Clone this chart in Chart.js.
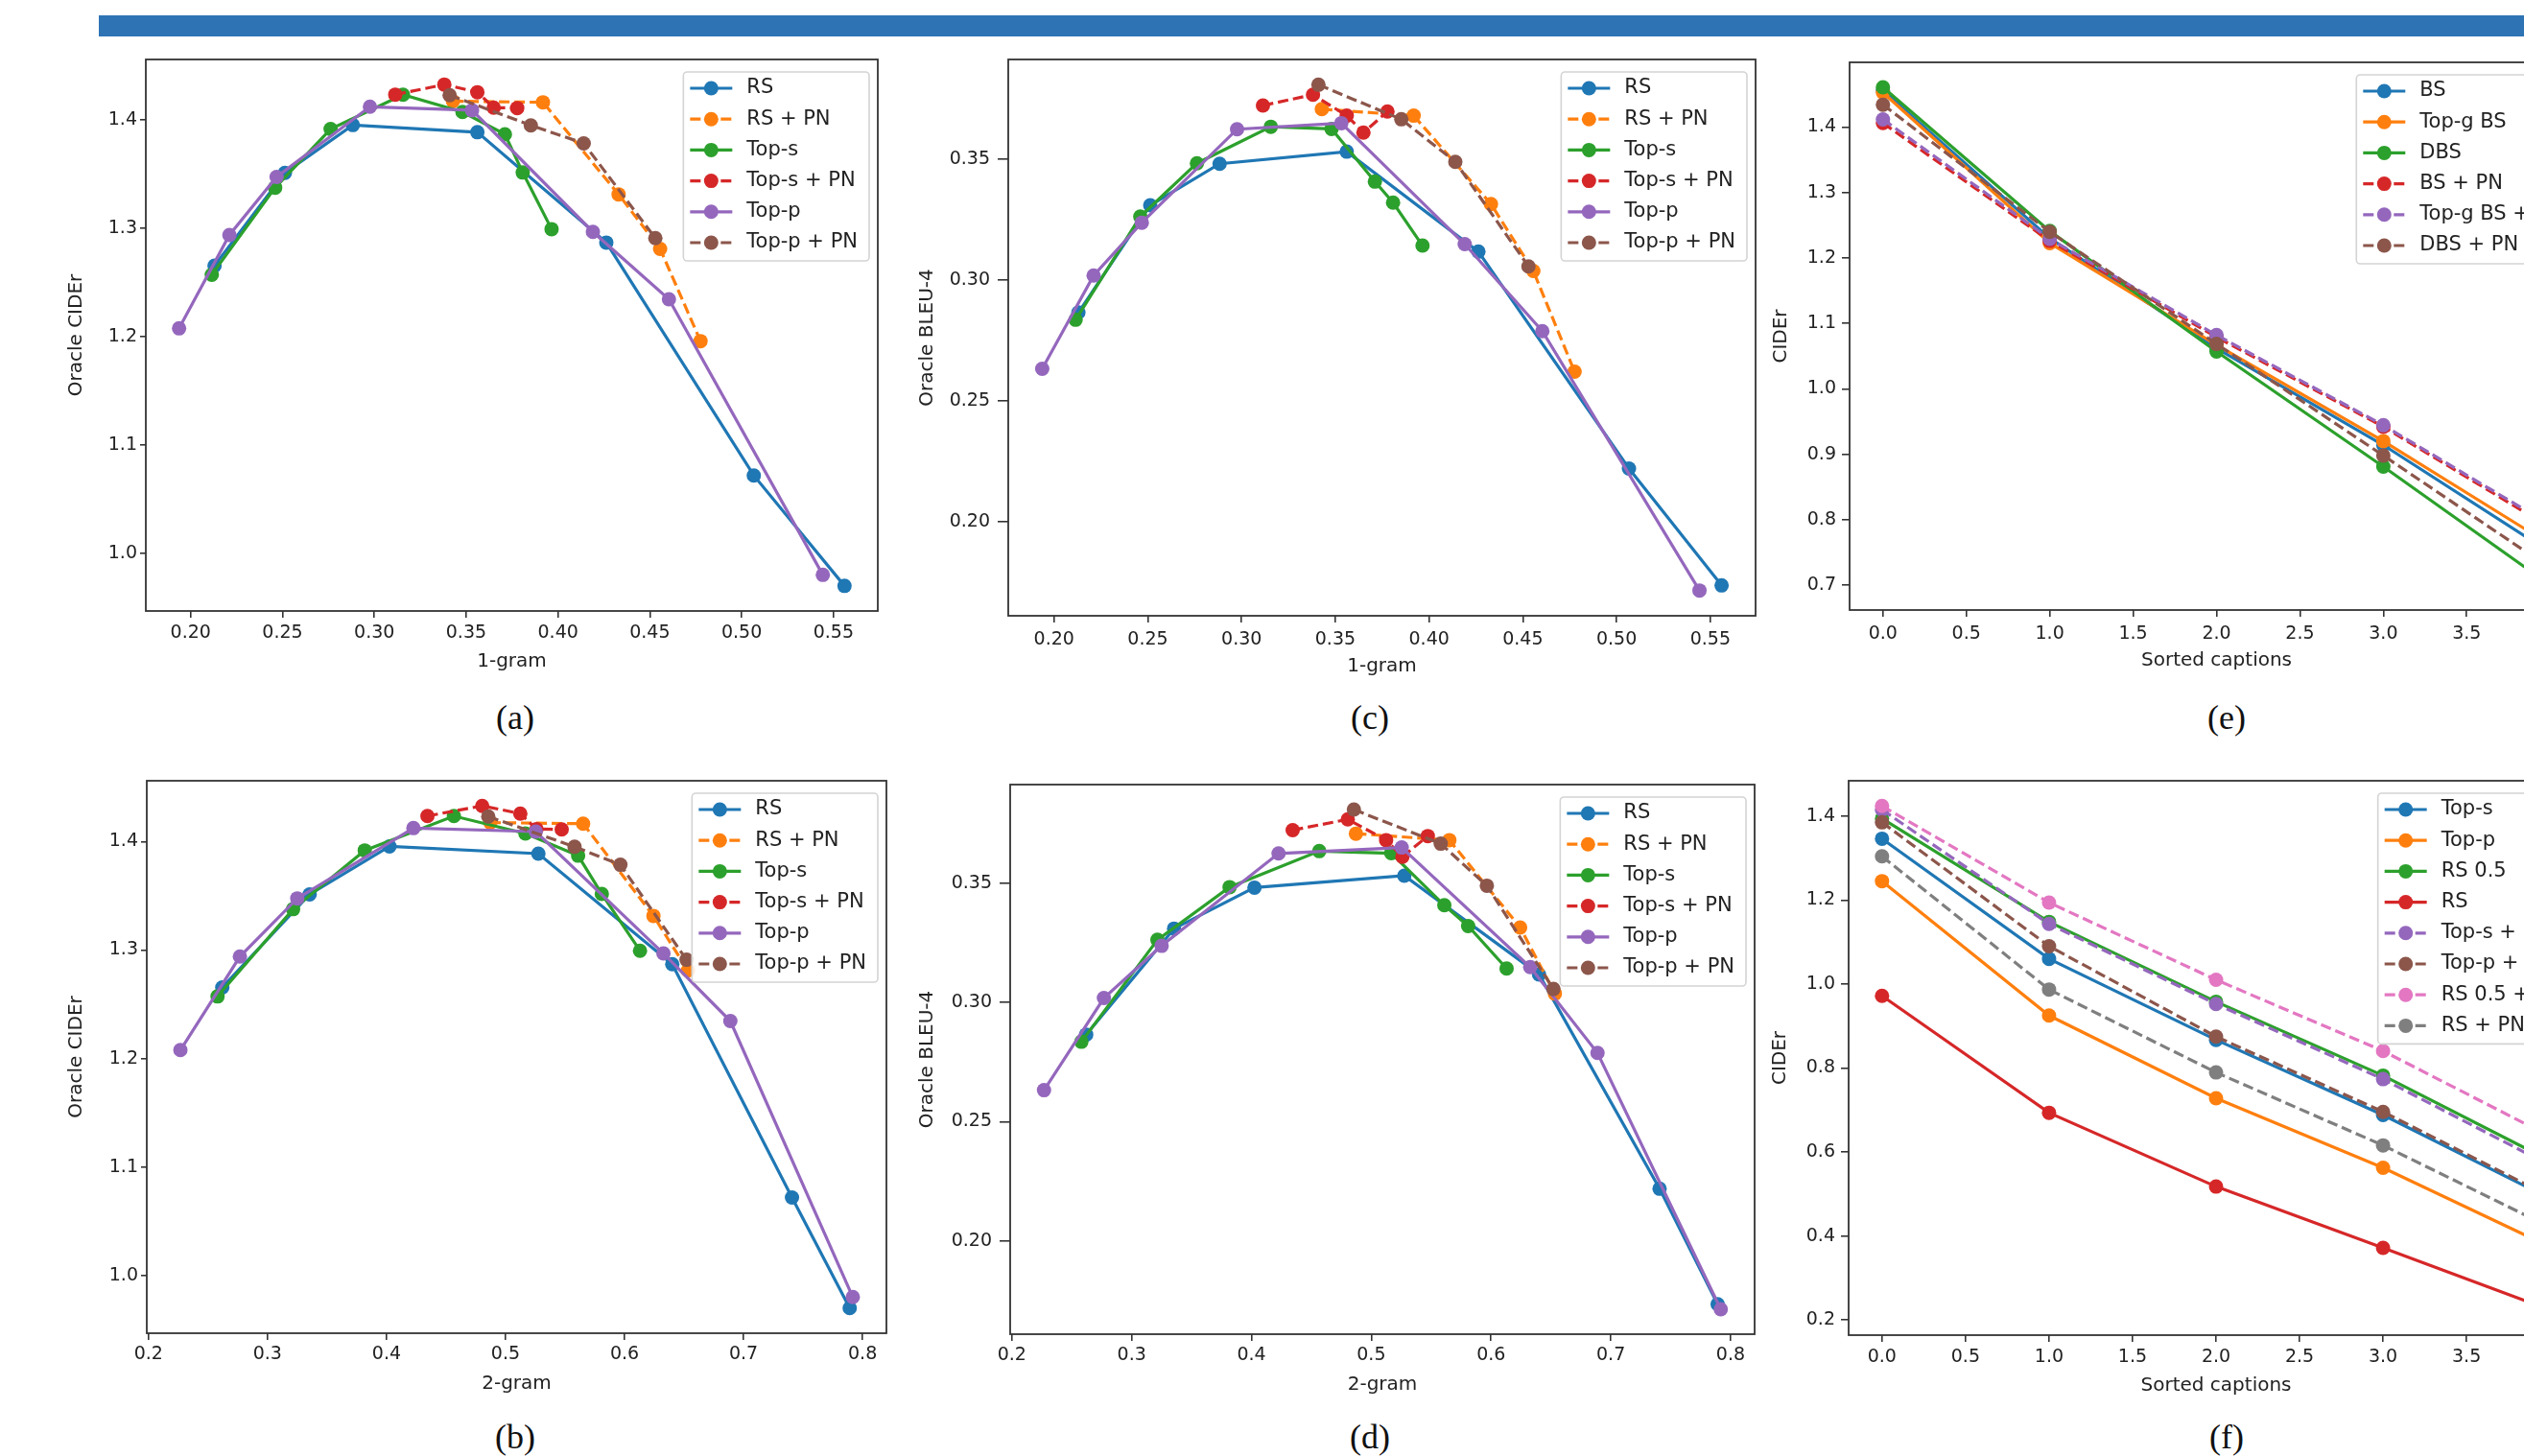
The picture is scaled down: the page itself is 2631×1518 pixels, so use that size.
<!DOCTYPE html>
<html>
<head>
<meta charset="utf-8">
<script src="https://cdn.jsdelivr.net/npm/chart.js@4.4.1/dist/chart.umd.min.js"></script>
<style>
  html, body { margin: 0; padding: 0; background: #fff; }
  body { width: 2631px; height: 1518px; overflow: hidden; position: relative; }
  .bar { position: absolute; left: 103px; top: 16px; width: 2528px; height: 22px; background: #2e74b5; }
  canvas { position: absolute; }
  .cap { position: absolute; font-family: "Liberation Serif", "Times New Roman", serif; font-size: 36px; color: #111; transform: translate(-50%, -50%); }
</style>
</head>
<body>
<div class="bar"></div>
<canvas id="pa"></canvas>
<canvas id="pc"></canvas>
<canvas id="pe"></canvas>
<canvas id="pb"></canvas>
<canvas id="pd"></canvas>
<canvas id="pf"></canvas>
<div class="cap" style="left:537px;top:748px">(a)</div>
<div class="cap" style="left:1428px;top:748px">(c)</div>
<div class="cap" style="left:2321px;top:748px">(e)</div>
<div class="cap" style="left:537px;top:1498px">(b)</div>
<div class="cap" style="left:1428px;top:1498px">(d)</div>
<div class="cap" style="left:2321px;top:1498px">(f)</div>
<script>
// ---- data: n-gram panels (a)-(d) ----
// 1-gram / 2-gram diversity and oracle CIDEr / BLEU-4 per method
const rsGram1 = [0.2130, 0.2513, 0.2883, 0.3561, 0.4263, 0.5066, 0.5560];
const rsGram2 = [0.2620, 0.3354, 0.4025, 0.5276, 0.6401, 0.7407, 0.7892];
const rsCider = [1.2656, 1.3513, 1.3955, 1.3889, 1.2870, 1.0720, 0.9700];
const rsBleu  = [0.2865, 0.3309, 0.3481, 0.3531, 0.3117, 0.2219, 0.1735];

const rsPnGram1 = [0.3428, 0.3918, 0.4330, 0.4556, 0.4776];
const rsPnGram2 = [0.4872, 0.5652, 0.6243, 0.6533];
const rsPnCider = [1.4175, 1.4165, 1.3315, 1.2812, 1.1960];
const rsPnBleu  = [0.3707, 0.3680, 0.3314, 0.3037, 0.2620];

const topsGram1 = [0.2115, 0.2460, 0.2762, 0.3156, 0.3480, 0.3711, 0.3808, 0.3965];
const topsGram2 = [0.2580, 0.3215, 0.3817, 0.4566, 0.5167, 0.5610, 0.5809, 0.6130];
const topsCider = [1.2573, 1.3377, 1.3918, 1.4235, 1.4075, 1.3870, 1.3517, 1.2994];
const topsBleu  = [0.2835, 0.3262, 0.3483, 0.3634, 0.3625, 0.3407, 0.3320, 0.3142];

const topsPnGram1 = [0.3114, 0.3381, 0.3561, 0.3650, 0.3778];
const topsPnGram2 = [0.4344, 0.4804, 0.5124, 0.5260, 0.5472];
const topsPnCider = [1.4236, 1.4329, 1.4258, 1.4115, 1.4112];
const topsPnBleu  = [0.3722, 0.3767, 0.3680, 0.3610, 0.3697];

const toppGram1 = [0.1937, 0.2211, 0.2468, 0.2976, 0.3532, 0.4190, 0.4604, 0.5442];
const toppGram2 = [0.2268, 0.2768, 0.3250, 0.4226, 0.5254, 0.6327, 0.6889, 0.7918];
const toppCider = [1.2078, 1.2940, 1.3476, 1.4124, 1.4092, 1.2969, 1.2346, 0.9802];
const toppBleu  = [0.2632, 0.3018, 0.3237, 0.3624, 0.3649, 0.3148, 0.2788, 0.1714];

const toppPnGram1 = [0.3410, 0.3852, 0.4140, 0.4530];
const toppPnGram2 = [0.4855, 0.5580, 0.5965, 0.6521];
const toppPnCider = [1.4231, 1.3952, 1.3786, 1.2911];
const toppPnBleu  = [0.3808, 0.3665, 0.3489, 0.3056];

// ---- data: sorted captions panels (e), (f) ----
const captionIdx = [0, 1, 2, 3, 4];

const eBs      = [1.4560, 1.2300, 1.0620, 0.9140, 0.7500];
const eTopgBs  = [1.4525, 1.2226, 1.0670, 0.9200, 0.7620];
const eDbs     = [1.4607, 1.2410, 1.0569, 0.8810, 0.7000];
const eBsPn    = [1.4060, 1.2260, 1.0790, 0.9420, 0.7880];
const eTopgPn  = [1.4116, 1.2290, 1.0820, 0.9443, 0.7920];
const eDbsPn   = [1.4340, 1.2397, 1.0685, 0.8980, 0.7260];

const fTops    = [1.3460, 1.0600, 0.8670, 0.6880, 0.4890];
const fTopp    = [1.2450, 0.9250, 0.7280, 0.5625, 0.3740];
const fRs05    = [1.3940, 1.1480, 0.9578, 0.7820, 0.5790];
const fRs      = [0.9720, 0.6935, 0.5177, 0.3718, 0.2240];
const fTopsPn  = [1.4150, 1.1430, 0.9525, 0.7735, 0.5680];
const fToppPn  = [1.3850, 1.0900, 0.8747, 0.6957, 0.4940];
const fRs05Pn  = [1.4240, 1.1940, 1.0100, 0.8406, 0.6370];
const fRsPn    = [1.3040, 0.9870, 0.7895, 0.6158, 0.4210];

// ---- tick values ----
const gram1Ticks   = [0.20, 0.25, 0.30, 0.35, 0.40, 0.45, 0.50, 0.55];
const gram2Ticks   = [0.2, 0.3, 0.4, 0.5, 0.6, 0.7, 0.8];
const captionTicks = [0.0, 0.5, 1.0, 1.5, 2.0, 2.5, 3.0, 3.5, 4.0];
const ciderTicksAB = [1.0, 1.1, 1.2, 1.3, 1.4];
const bleuTicks    = [0.20, 0.25, 0.30, 0.35];
const ciderTicksE  = [0.7, 0.8, 0.9, 1.0, 1.1, 1.2, 1.3, 1.4];
const ciderTicksF  = [0.2, 0.4, 0.6, 0.8, 1.0, 1.2, 1.4];

// ---- styling ----
const tab = ['#1f77b4', '#ff7f0e', '#2ca02c', '#d62728', '#9467bd', '#8c564b', '#e377c2', '#7f7f7f'];
const FONT = 'DejaVu Sans';
const INK = '#222';
const SPINE = '#333';

function pts(xs, ys) {
    const out = [];
    for (let i = 0; i < xs.length; i++) {
        if (xs[i] != null && ys[i] != null) out.push({ x: xs[i], y: ys[i] });
    }
    return out;
}

// matplotlib style 5% margins
function autoRange(vals) {
    const lo = Math.min(...vals), hi = Math.max(...vals);
    const m = (hi - lo) * 0.05;
    return [lo - m, hi + m];
}

function ngramSeries(useGram2, useBleu) {
    const g = (a, b) => useGram2 ? b : a;
    const v = (a, b) => useBleu ? b : a;
    return [
        { label: 'RS', color: tab[0], dash: false, points: pts(g(rsGram1, rsGram2), v(rsCider, rsBleu)) },
        { label: 'RS + PN', color: tab[1], dash: true, points: pts(g(rsPnGram1, rsPnGram2), v(rsPnCider, rsPnBleu)) },
        { label: 'Top-s', color: tab[2], dash: false, points: pts(g(topsGram1, topsGram2), v(topsCider, topsBleu)) },
        { label: 'Top-s + PN', color: tab[3], dash: true, points: pts(g(topsPnGram1, topsPnGram2), v(topsPnCider, topsPnBleu)) },
        { label: 'Top-p', color: tab[4], dash: false, points: pts(g(toppGram1, toppGram2), v(toppCider, toppBleu)) },
        { label: 'Top-p + PN', color: tab[5], dash: true, points: pts(g(toppPnGram1, toppPnGram2), v(toppPnCider, toppPnBleu)) }
    ];
}

const eSeries = [
    { label: 'BS', color: tab[0], dash: false, points: pts(captionIdx, eBs) },
    { label: 'Top-g BS', color: tab[1], dash: false, points: pts(captionIdx, eTopgBs) },
    { label: 'DBS', color: tab[2], dash: false, points: pts(captionIdx, eDbs) },
    { label: 'BS + PN', color: tab[3], dash: true, points: pts(captionIdx, eBsPn) },
    { label: 'Top-g BS + PN', color: tab[4], dash: true, points: pts(captionIdx, eTopgPn) },
    { label: 'DBS + PN', color: tab[5], dash: true, points: pts(captionIdx, eDbsPn) }
];

const fSeries = [
    { label: 'Top-s', color: tab[0], dash: false, points: pts(captionIdx, fTops) },
    { label: 'Top-p', color: tab[1], dash: false, points: pts(captionIdx, fTopp) },
    { label: 'RS 0.5', color: tab[2], dash: false, points: pts(captionIdx, fRs05) },
    { label: 'RS', color: tab[3], dash: false, points: pts(captionIdx, fRs) },
    { label: 'Top-s + PN', color: tab[4], dash: true, points: pts(captionIdx, fTopsPn) },
    { label: 'Top-p + PN', color: tab[5], dash: true, points: pts(captionIdx, fToppPn) },
    { label: 'RS 0.5 + PN', color: tab[6], dash: true, points: pts(captionIdx, fRs05Pn) },
    { label: 'RS + PN', color: tab[7], dash: true, points: pts(captionIdx, fRsPn) }
];

// frame around plot area (spines)
const framePlugin = {
    id: 'frame',
    afterDatasetsDraw(chart) {
        const a = chart.chartArea, ctx = chart.ctx;
        ctx.save();
        ctx.strokeStyle = SPINE;
        ctx.lineWidth = 1.8;
        ctx.strokeRect(a.left, a.top, a.right - a.left, a.bottom - a.top);
        ctx.restore();
    }
};

// matplotlib-like legend box in the upper right corner
const legendPlugin = {
    id: 'mplLegend',
    afterDraw(chart) {
        const ctx = chart.ctx, a = chart.chartArea;
        const sets = chart.data.datasets;
        ctx.save();
        ctx.font = '21px "' + FONT + '"';
        const textW = Math.max(...sets.map(d => ctx.measureText(d.label).width));
        const step = 32.2;
        const w = 66 + textW + 12;
        const h = 17 + (sets.length - 1) * step + 19;
        const x0 = a.right - 9 - w, y0 = a.top + 13;
        ctx.beginPath();
        ctx.roundRect(x0, y0, w, h, 4);
        ctx.fillStyle = 'rgba(255,255,255,0.85)';
        ctx.fill();
        ctx.strokeStyle = '#d4d4d4';
        ctx.lineWidth = 1.6;
        ctx.stroke();
        sets.forEach((d, i) => {
            const cy = y0 + 17 + i * step;
            ctx.strokeStyle = d.borderColor;
            ctx.lineWidth = 3.2;
            ctx.setLineDash(d.borderDash);
            ctx.beginPath();
            ctx.moveTo(x0 + 7, cy);
            ctx.lineTo(x0 + 51, cy);
            ctx.stroke();
            ctx.setLineDash([]);
            ctx.fillStyle = d.borderColor;
            ctx.beginPath();
            ctx.arc(x0 + 29, cy, 7.5, 0, Math.PI * 2);
            ctx.fill();
            ctx.fillStyle = INK;
            ctx.textBaseline = 'middle';
            ctx.textAlign = 'left';
            ctx.fillText(d.label, x0 + 66, cy);
        });
        ctx.restore();
    }
};

function axis(horizontal, range, ticks, dec, title, tickLen, pad, fixed) {
    return {
        type: 'linear',
        position: horizontal ? 'bottom' : 'left',
        min: range[0],
        max: range[1],
        afterFit: s => { if (horizontal) s.height = fixed; else s.width = fixed; },
        afterBuildTicks: s => { s.ticks = ticks.map(v => ({ value: v })); },
        ticks: {
            callback: v => Number(v).toFixed(dec),
            font: { family: FONT, size: 19 },
            color: INK,
            padding: pad,
            autoSkip: false,
            maxRotation: 0
        },
        grid: { display: true, drawOnChartArea: false, drawTicks: true, tickLength: tickLen, color: SPINE, lineWidth: 1.6 },
        border: { display: false },
        title: { display: true, text: title, font: { family: FONT, size: 20 }, color: INK, padding: { top: 4, bottom: 4 } }
    };
}

function makeChart(p) {
    const canvas = document.getElementById(p.id);
    const left = p.titleX - 16;
    const top = p.box[1] - 20;
    const w = p.box[2] + 10 - left;
    const h = p.box[3] + 69 - top;
    canvas.width = w;
    canvas.height = h;
    canvas.style.left = left + 'px';
    canvas.style.top = top + 'px';
    canvas.style.width = w + 'px';
    canvas.style.height = h + 'px';

    const all = p.series.flatMap(s => s.points);
    const xr = autoRange(all.map(q => q.x));
    const yr = autoRange(all.map(q => q.y));

    new Chart(canvas, {
        type: 'scatter',
        data: {
            datasets: p.series.map((s, i) => ({
                label: s.label,
                data: s.points,
                showLine: true,
                borderColor: s.color,
                backgroundColor: s.color,
                pointBackgroundColor: s.color,
                borderWidth: 3.2,
                borderDash: s.dash ? [11, 5] : [],
                pointRadius: 7.5,
                pointBorderWidth: 0,
                tension: 0,
                order: -i
            }))
        },
        options: {
            responsive: false,
            animation: false,
            devicePixelRatio: 1,
            layout: { padding: { top: 20, right: 10, left: 0, bottom: 0 } },
            plugins: { legend: { display: false }, tooltip: { enabled: false } },
            scales: {
                x: axis(true, xr, p.xTicks, p.xDec, p.xTitle, 7, p.xPad, 69),
                y: axis(false, yr, p.yTicks, p.yDec, p.yTitle, p.yTick[0], p.yTick[1], p.box[0] - left)
            }
        },
        plugins: [framePlugin, legendPlugin]
    });
}

const panels = [
    { id: 'pa', box: [152, 62, 915, 637], titleX: 80, series: ngramSeries(false, false),
      xTicks: gram1Ticks, xDec: 2, yTicks: ciderTicksAB, yDec: 1, xTitle: '1-gram', yTitle: 'Oracle CIDEr', yTick: [6, 3], xPad: 5 },
    { id: 'pc', box: [1051, 62, 1830, 642], titleX: 967, series: ngramSeries(false, true),
      xTicks: gram1Ticks, xDec: 2, yTicks: bleuTicks, yDec: 2, xTitle: '1-gram', yTitle: 'Oracle BLEU-4', yTick: [11, 8], xPad: 6.5 },
    { id: 'pe', box: [1928, 65, 2693, 636], titleX: 1857, series: eSeries,
      xTicks: captionTicks, xDec: 1, yTicks: ciderTicksE, yDec: 1, xTitle: 'Sorted captions', yTitle: 'CIDEr', yTick: [8, 6], xPad: 6.5 },
    { id: 'pb', box: [153, 814, 924, 1390], titleX: 80, series: ngramSeries(true, false),
      xTicks: gram2Ticks, xDec: 1, yTicks: ciderTicksAB, yDec: 1, xTitle: '2-gram', yTitle: 'Oracle CIDEr', yTick: [6, 3], xPad: 4 },
    { id: 'pd', box: [1053, 818, 1829, 1391], titleX: 967, series: ngramSeries(true, true),
      xTicks: gram2Ticks, xDec: 1, yTicks: bleuTicks, yDec: 2, xTitle: '2-gram', yTitle: 'Oracle BLEU-4', yTick: [11, 8], xPad: 4 },
    { id: 'pf', box: [1927, 814, 2693, 1392], titleX: 1856, series: fSeries,
      xTicks: captionTicks, xDec: 1, yTicks: ciderTicksF, yDec: 1, xTitle: 'Sorted captions', yTitle: 'CIDEr', yTick: [8, 6], xPad: 5 }
];

panels.forEach(makeChart);
</script>
</body>
</html>
